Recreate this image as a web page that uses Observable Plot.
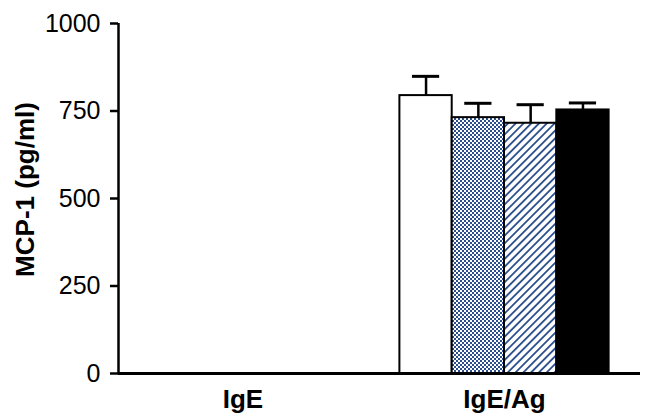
<!DOCTYPE html>
<html><head><meta charset="utf-8">
<script src="https://cdn.jsdelivr.net/npm/d3@7"></script>
<script src="https://cdn.jsdelivr.net/npm/@observablehq/plot@0.6"></script>
<style>body{margin:0;background:#fff}</style>
</head><body><div id="chart"></div>
<script>
const groups = ["IgE", "IgE/Ag"];
const series = ["s1", "s2", "s3", "s4"];
const valuesIgE = [0, 0, 0, 0];
const errorsIgE = [0, 0, 0, 0];
const valuesIgEAg = [794, 731, 715, 753];
const errorsIgEAg = [55, 41, 53, 20];
const yTicks = [0, 250, 500, 750, 1000];
const yLabel = "MCP-1 (pg/ml)";

const groupValues = [valuesIgE, valuesIgEAg];
const groupErrors = [errorsIgE, errorsIgEAg];
const rows = [];
groups.forEach((g, gi) => series.forEach((s, si) => rows.push({group: g, gi, series: s, si, value: groupValues[gi][si], error: groupErrors[gi][si]})));

const xDomain = [-0.476, 1.52];
const barW = 0.2, cap = 0.052;
const xc = d => d.gi + (d.si - 1.5) * barW;

const plot = Plot.plot({
  width: 648, height: 419,
  marginTop: 23, marginBottom: 46, marginLeft: 118, marginRight: 8,
  style: {fontFamily: "'Liberation Sans', Arial, sans-serif", color: "black", background: "white"},
  x: {domain: xDomain},
  y: {domain: [0, 1000]},
  color: {domain: series, range: ["white", "url(#chk)", "url(#hatch)", "black"]},
  marks: [
    Plot.ruleX(rows, {x: xc, y1: "value", y2: d => d.value + d.error, stroke: "black", strokeWidth: 2.5}),
    Plot.ruleY(rows, {y: d => d.value + d.error, x1: d => xc(d) - cap, x2: d => xc(d) + cap, stroke: "black", strokeWidth: 3}),
    Plot.rect(rows, {x1: d => xc(d) - barW / 2, x2: d => xc(d) + barW / 2, y1: 0, y2: "value", fill: "series", stroke: "black", strokeWidth: 2}),
    Plot.ruleY([0], {stroke: "black", strokeWidth: 3}),
    Plot.ruleX([xDomain[0]], {y1: 0, y2: 1000, stroke: "black", strokeWidth: 2.5}),
    Plot.axisY({ticks: yTicks, tickFormat: d => String(d), tickSize: 8, tickPadding: 10, fontSize: 25, label: null, strokeWidth: 2.5}),
    Plot.axisX({ticks: [0, 1], tickFormat: i => groups[i], tickSize: 0, tickPadding: 16, fontSize: 26, fontWeight: "bold", label: null}),
    Plot.text([yLabel], {frameAnchor: "left", textAnchor: "middle", rotate: -90, dx: -93, dy: -9, fontSize: 26, fontWeight: "bold"})
  ]
});

const defs = d3.create("svg:defs");
const chk = defs.append("pattern").attr("id", "chk").attr("patternUnits", "userSpaceOnUse").attr("width", 4).attr("height", 4);
chk.append("rect").attr("width", 4).attr("height", 4).attr("fill", "white");
chk.append("rect").attr("width", 2).attr("height", 2).attr("fill", "#2b4f8c");
chk.append("rect").attr("x", 2).attr("y", 2).attr("width", 2).attr("height", 2).attr("fill", "#2b4f8c");
const hatch = defs.append("pattern").attr("id", "hatch").attr("patternUnits", "userSpaceOnUse").attr("width", 5.5).attr("height", 5.5).attr("patternTransform", "rotate(45)");
hatch.append("rect").attr("width", 5.5).attr("height", 5.5).attr("fill", "white");
hatch.append("rect").attr("width", 1.8).attr("height", 5.5).attr("fill", "#2b4f8c");
plot.insertBefore(defs.node(), plot.firstChild);

document.getElementById("chart").appendChild(plot);
</script>
</body></html>
